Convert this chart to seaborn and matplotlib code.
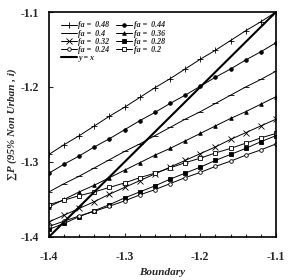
import numpy as np
import pandas as pd
import matplotlib
matplotlib.use("Agg")
import matplotlib.pyplot as plt
import seaborn as sns
from matplotlib.ticker import MultipleLocator

boundary = [-1.40, -1.38, -1.36, -1.34, -1.32, -1.30, -1.28, -1.26,
            -1.24, -1.22, -1.20, -1.18, -1.16, -1.14, -1.12, -1.10]

fa_048 = [-1.290, -1.277, -1.265, -1.252, -1.239, -1.227, -1.214, -1.201,
          -1.189, -1.176, -1.163, -1.151, -1.138, -1.125, -1.113, -1.100]
fa_044 = [-1.315, -1.303, -1.292, -1.280, -1.269, -1.257, -1.245, -1.234,
          -1.222, -1.211, -1.199, -1.187, -1.176, -1.164, -1.153, -1.141]
fa_040 = [-1.340, -1.329, -1.319, -1.308, -1.297, -1.286, -1.276, -1.265,
          -1.254, -1.243, -1.233, -1.222, -1.211, -1.200, -1.190, -1.179]
fa_036 = [-1.360, -1.350, -1.340, -1.331, -1.321, -1.311, -1.301, -1.291,
          -1.282, -1.272, -1.262, -1.252, -1.242, -1.233, -1.223, -1.213]
fa_032 = [-1.380, -1.371, -1.362, -1.353, -1.343, -1.334, -1.325, -1.316,
          -1.307, -1.298, -1.289, -1.280, -1.270, -1.261, -1.252, -1.243]
fa_028 = [-1.390, -1.382, -1.373, -1.365, -1.357, -1.348, -1.340, -1.332,
          -1.323, -1.315, -1.307, -1.298, -1.290, -1.282, -1.273, -1.265]
fa_024 = [-1.386, -1.379, -1.372, -1.366, -1.359, -1.352, -1.344, -1.337,
          -1.329, -1.321, -1.314, -1.306, -1.299, -1.291, -1.284, -1.276]
fa_020 = [-1.357, -1.351, -1.345, -1.340, -1.334, -1.328, -1.321, -1.315,
          -1.308, -1.301, -1.295, -1.288, -1.282, -1.275, -1.268, -1.262]
identity = [-1.40, -1.10]

sns.set_style("ticks")
plt.rcParams["font.family"] = ["Liberation Serif", "DejaVu Serif"]
plt.rcParams["font.weight"] = "bold"

fig = plt.figure(figsize=(2.88, 2.80), dpi=100)
ax = fig.add_axes([0.170, 0.154, 0.788, 0.803])

# (label, values, marker, filled)
series = [
    ("0.48", fa_048, "+", True),
    ("0.44", fa_044, "o", True),
    ("0.4", fa_040, "_", True),
    ("0.36", fa_036, "^", True),
    ("0.32", fa_032, "x", True),
    ("0.28", fa_028, "s", True),
    ("0.24", fa_024, "o", False),
    ("0.2", fa_020, "s", False),
]
for lab, vals, mk, filled in series:
    sns.lineplot(x=boundary, y=vals, ax=ax, color="black", lw=0.7,
                 marker=mk, markersize=2.6 if mk not in "+x_" else 4.0,
                 markeredgewidth=0.6, markeredgecolor="black",
                 markerfacecolor="black" if filled else "white",
                 label=f"fa =  {lab}")
sns.lineplot(x=identity, y=identity, ax=ax, color="black", lw=1.5, label="y = x")

ax.set_xlim(-1.4, -1.1)
ax.set_ylim(-1.4, -1.1)
ax.xaxis.set_major_locator(MultipleLocator(0.1))
ax.yaxis.set_major_locator(MultipleLocator(0.1))
ax.xaxis.set_minor_locator(MultipleLocator(0.02))
ax.tick_params(which="both", direction="in", labelsize=8.5, width=0.8)
ax.tick_params(which="major", length=3)
ax.tick_params(axis="x", which="major", pad=10)
ax.tick_params(axis="y", which="major", pad=7)
ax.tick_params(which="minor", length=2)
ax.set_xticklabels([f"{t:.1f}" for t in ax.get_xticks()], fontweight="bold")
ax.set_yticklabels([f"{t:.1f}" for t in ax.get_yticks()], fontweight="bold")
for s in ax.spines.values():
    s.set_linewidth(1.2)
    s.set_color("black")

ax.set_xlabel("Boundary", fontsize=8, fontstyle="italic", fontweight="bold", labelpad=4)
ax.set_ylabel("\u2211P (95% Non Urban , i)", fontsize=8, fontstyle="italic",
              fontweight="bold", labelpad=3)

h, l = ax.get_legend_handles_labels()
order = [0, 2, 4, 6, 8, 1, 3, 5, 7]
ax.legend([h[i] for i in order], [l[i] for i in order], ncol=2, loc="upper left",
          bbox_to_anchor=(0.03, 0.98), frameon=False,
          prop={"style": "italic", "weight": "bold", "size": 5.8},
          handlelength=2.0, handletextpad=0.2, columnspacing=0.8,
          labelspacing=0.02, borderaxespad=0.2)

fig.savefig("out.png", dpi=100)
